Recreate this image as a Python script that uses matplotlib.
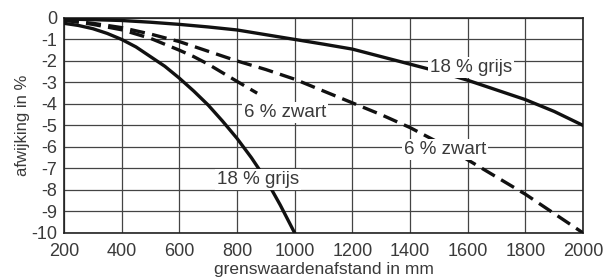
import matplotlib.pyplot as plt

plt.rcParams['font.family'] = ['Liberation Sans', 'DejaVu Sans']

# 18 % grijs, upper curve
x_grijs_a = [200, 300, 400, 500, 600, 700, 800, 900, 1000, 1100, 1200, 1300,
             1400, 1500, 1600, 1700, 1800, 1900, 2000]
y_grijs_a = [-0.05, -0.08, -0.12, -0.2, -0.3, -0.42, -0.56, -0.78, -1.0, -1.22,
             -1.45, -1.8, -2.15, -2.5, -2.9, -3.35, -3.8, -4.35, -5.0]

# 18 % grijs, steep curve
x_grijs_b = [200, 250, 300, 350, 400, 450, 500, 550, 600, 650, 700, 750, 800,
             850, 900, 950, 1000]
y_grijs_b = [-0.25, -0.35, -0.5, -0.72, -1.0, -1.35, -1.8, -2.25, -2.8, -3.4,
             -4.05, -4.8, -5.6, -6.5, -7.5, -8.7, -10.0]

# 6 % zwart, long dashed curve
x_zwart_a = [200, 300, 400, 500, 600, 700, 800, 900, 1000, 1100, 1200, 1300,
             1400, 1500, 1600, 1700, 1800, 1900, 2000]
y_zwart_a = [-0.1, -0.25, -0.45, -0.75, -1.1, -1.55, -2.0, -2.4, -2.85, -3.4,
             -3.95, -4.5, -5.1, -5.8, -6.6, -7.4, -8.2, -9.1, -10.0]

# 6 % zwart, short dashed curve (ends at its label)
x_zwart_b = [200, 300, 400, 500, 600, 650, 700, 750, 800, 870]
y_zwart_b = [-0.1, -0.3, -0.55, -0.95, -1.5, -1.8, -2.15, -2.55, -2.95, -3.5]

x_ticks = list(range(200, 2001, 200))
y_ticks = list(range(0, -11, -1))

fig = plt.figure(figsize=(6.03, 2.80), dpi=100)
ax = fig.add_axes([0.106, 0.168, 0.861, 0.768])

lw = 2.4
dash = (0, (4.5, 2.2))
ax.plot(x_grijs_a, y_grijs_a, color='#111111', lw=lw, zorder=3)
ax.plot(x_grijs_b, y_grijs_b, color='#111111', lw=lw, zorder=3)
ax.plot(x_zwart_a, y_zwart_a, color='#111111', lw=lw, ls=dash, zorder=3)
ax.plot(x_zwart_b, y_zwart_b, color='#111111', lw=lw, ls=dash, zorder=3)

box = dict(facecolor='white', edgecolor='none', pad=1.5)
lab = dict(fontsize=13.5, color='#3a3a3a', ha='center', va='center', bbox=box, zorder=5)
ax.text(1611, -2.3, '18 % grijs', **lab)
ax.text(1521, -6.1, '6 % zwart', **lab)
ax.text(966, -4.4, '6 % zwart', **lab)
ax.text(873, -7.5, '18 % grijs', **lab)

ax.set_xlim(200, 2000)
ax.set_ylim(-10, 0)
ax.set_xticks(x_ticks)
ax.set_yticks(y_ticks)
ax.set_xticklabels([str(v) for v in x_ticks])
ax.set_yticklabels([str(v) for v in y_ticks])
ax.tick_params(axis='x', length=0, labelsize=13, labelcolor='#3a3a3a', pad=7)
ax.tick_params(axis='y', length=0, labelsize=13, labelcolor='#3a3a3a', pad=5)
ax.grid(True, color='#444444', lw=0.9, zorder=1)
ax.set_axisbelow(True)
for s in ax.spines.values():
    s.set_linewidth(1.2)
    s.set_color('#222222')

ax.set_xlabel('grenswaardenafstand in mm', fontsize=12.5, color='#3a3a3a', labelpad=2)
ax.set_ylabel('afwijking in %', fontsize=12, color='#3a3a3a', labelpad=1)

fig.savefig('out.png', dpi=100)
